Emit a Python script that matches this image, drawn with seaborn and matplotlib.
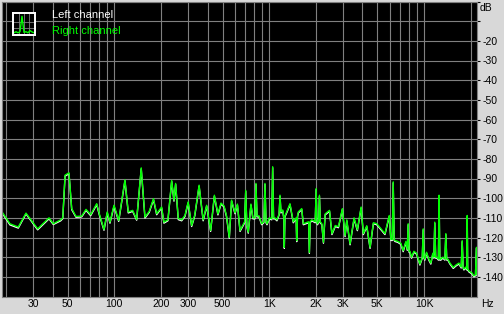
import matplotlib
matplotlib.use("Agg")
import matplotlib.pyplot as plt
import seaborn as sns
from matplotlib.ticker import FixedLocator, LogLocator, FuncFormatter, NullFormatter

# ---------------- data ----------------
freq_hz = [18.75, 21.2, 24.0, 26.9, 32.0, 37.9, 40.4, 45.1, 46.5, 48.1,
           51.0, 53.1, 56.6, 61.6, 65.7, 70.4, 77.0, 80.0, 85.8, 90.1,
           93.8, 99.6, 106.8, 117.2, 123.1, 131.5, 139.5, 149.3, 157.8, 168.2,
           179.1, 187.8, 202.2, 209.2, 222, 234.8, 243, 249, 259, 272.5,
           286, 300, 316, 331, 353, 375, 395, 419, 443, 467,
           489, 512, 531, 553, 572, 602, 624, 649, 695, 706,
           718, 733, 763, 786, 810, 822, 835, 860, 895, 925,
           940, 955, 969, 1005, 1040, 1054, 1068, 1090, 1123, 1160,
           1176, 1192, 1224, 1245, 1253, 1265, 1298, 1364, 1432, 1495,
           1507, 1525, 1544, 1624, 1663, 1800, 1819, 1840, 1886, 1985,
           2012, 2035, 2051, 2090, 2113, 2140, 2190, 2243, 2300, 2455,
           2545, 2673, 2803, 2972, 3094, 3173, 3332, 3536, 3714, 3927,
           4060, 4272, 4486, 4710, 4957, 5202, 5597, 5966, 6118, 6240,
           6329, 6420, 6492, 6785, 7096, 7341, 7642, 7800, 7907, 8010,
           8110, 8318, 8610, 8962, 9414, 9750, 9885, 10000, 10130, 10390,
           10750, 11070, 11400, 11600, 11740, 11900, 12100, 12400, 12520, 12650,
           12850, 13240, 13650, 13840, 14030, 14260, 14710, 15450, 16080, 16810,
           17400, 17650, 17900, 18100, 18650, 18900, 19020, 19150, 19500, 20400,
           21010, 21500, 21800, 22000]

right_db = [-106.7, -113, -114.7, -107.6, -115.6, -110, -113, -111, -110, -88.3,
            -87.1, -105.3, -109.3, -109.1, -105.7, -108.4, -102.8, -107.9, -115.9, -107,
            -112.2, -103.6, -111.3, -90.7, -107, -106.2, -110.8, -84.6, -109.6, -106.7,
            -100.3, -107.9, -104.5, -112.2, -111, -91, -101, -92.5, -110.4, -111,
            -108.8, -101.9, -113.9, -108.5, -93.4, -111, -103.6, -116.4, -98.5, -108,
            -102.5, -104, -109, -119.9, -101, -107.4, -103, -116.4, -112, -96,
            -114, -117.3, -103, -110, -110, -92.5, -109, -109, -113, -112,
            -92.5, -112, -113, -110, -110.5, -84, -110, -110, -111, -108,
            -98.5, -107, -106, -110, -125, -109, -107, -102.8, -112, -110,
            -121.6, -109, -107, -105.3, -113, -112, -127.6, -112, -111, -112,
            -95.1, -112, -113, -112, -98.5, -112, -113, -122.4, -108, -106.2,
            -118, -113.9, -114.5, -105.3, -119, -111, -123.2, -110, -116, -104.5,
            -118, -114, -125, -112.5, -113, -115, -118, -108.8, -121, -121,
            -91.7, -121, -121.5, -122, -123, -126.7, -122, -126, -113, -127,
            -127, -130, -127, -128, -133.5, -130, -115.6, -130, -131, -127.5,
            -131, -133, -128, -130, -112.2, -130, -130, -131, -98.5, -131,
            -131, -130, -131, -118, -131, -131, -133, -135.2, -134, -133,
            -135, -121.6, -135, -136, -135, -136, -108.8, -136, -137, -138,
            -139.5, -139, -125, -139]

left_db = [-107.2, -113.6, -115.2, -108.0, -116.1, -110.5, -113.4, -111.5, -110.4, -88.8,
           -87.6, -105.8, -109.7, -109.5, -106.2, -108.9, -103.3, -108.4, -116.3, -107.5,
           -112.7, -104.1, -111.8, -91.2, -107.5, -106.7, -111.2, -85.1, -110.1, -107.2,
           -100.8, -108.4, -105.0, -112.7, -111.5, -91.5, -101.5, -93.0, -110.9, -111.5,
           -109.3, -102.4, -114.4, -109.0, -93.9, -111.5, -104.1, -116.9, -99.0, -108.5,
           -103.0, -104.5, -109.5, -120.4, -101.5, -107.9, -103.5, -116.9, -112.5, -96.5,
           -114.5, -117.8, -103.5, -110.5, -110.5, -93.0, -109.5, -109.5, -113.5, -112.5,
           -93.0, -112.5, -113.5, -110.5, -111.0, -84.5, -110.5, -110.5, -111.5, -108.5,
           -99.0, -107.5, -106.5, -110.5, -125.5, -109.5, -107.5, -103.3, -112.5, -110.5,
           -122.1, -109.5, -107.5, -105.8, -113.5, -112.5, -128.1, -112.5, -111.5, -112.5,
           -95.6, -112.5, -113.5, -112.5, -99.0, -112.5, -113.5, -122.9, -108.5, -106.7,
           -118.5, -114.4, -115.0, -105.8, -119.5, -111.5, -123.7, -110.5, -116.5, -105.0,
           -118.5, -114.5, -125.5, -113.0, -113.5, -115.5, -118.5, -109.3, -121.5, -121.5,
           -92.2, -121.5, -122.0, -122.5, -123.5, -127.2, -122.5, -126.5, -113.5, -127.5,
           -127.5, -130.5, -127.5, -128.5, -134.0, -130.5, -116.1, -130.5, -131.5, -128.0,
           -131.5, -133.5, -128.5, -130.5, -112.7, -130.5, -130.5, -131.5, -99.0, -131.5,
           -131.5, -130.5, -131.5, -118.5, -131.5, -131.5, -133.5, -135.7, -134.5, -133.5,
           -135.5, -122.1, -135.5, -136.5, -135.5, -136.5, -109.3, -136.5, -137.5, -138.5,
           -140.0, -139.5, -125.5, -139.5]

x_tick_values = [30, 50, 100, 200, 300, 500, 1000, 2000, 3000, 5000, 10000]
x_tick_labels = ["30", "50", "100", "200", "300", "500", "1K", "2K", "3K", "5K", "10K"]
y_grid_values = [-140, -130, -120, -110, -100, -90, -80, -70, -60, -50, -40, -30, -20, -10, 0]
y_labeled = [-140, -130, -120, -110, -100, -90, -80, -70, -60, -50, -40, -30, -20]
series_names = ["Left channel", "Right channel"]

# icon decoration (mini spectrum)
icon_x = [0, 1, 2, 3, 4, 5, 6, 7, 8, 9, 10]
icon_y = [1, 1.5, 1, 1.5, 8.5, 1.2, 1.5, 1, 2, 1.4, 1]

assert len(freq_hz) == len(right_db) == len(left_db)

# ---------------- style ----------------
sns.set_style("dark")
plt.rcParams["font.family"] = ["Liberation Sans", "DejaVu Sans"]

BG = "#D8D8D8"
GRID = "#808080"
GREEN = "#00FF00"

W, H = 504, 314
fig = plt.figure(figsize=(W / 100, H / 100), dpi=100, facecolor=BG)
ax = fig.add_axes([1.7 / W, 1 - 296.5 / H, (477 - 1.7) / W, 295 / H])
ax.set_facecolor("black")
ax.set_xscale("log")

sns.lineplot(x=freq_hz, y=left_db, ax=ax, color="white", lw=1.0, estimator=None)
sns.lineplot(x=freq_hz, y=right_db, ax=ax, color=GREEN, lw=1.0, estimator=None)

ax.set_xlim(18.75, 22000)
ax.set_ylim(-150, 0)

ax.xaxis.set_major_locator(FixedLocator(x_tick_values))
ax.set_xticklabels(x_tick_labels)
ax.xaxis.set_minor_locator(LogLocator(base=10, subs=[2, 3, 4, 5, 6, 7, 8, 9], numticks=20))
ax.xaxis.set_minor_formatter(NullFormatter())

ax.yaxis.set_major_locator(FixedLocator(y_grid_values))
ax.yaxis.set_major_formatter(FuncFormatter(lambda v, p: f"{int(v)}" if int(round(v)) in y_labeled else ""))
ax.yaxis.tick_right()

ax.grid(which="both", color=GRID, lw=0.8)
ax.set_axisbelow(True)
ax.tick_params(axis="x", which="both", length=0, pad=1.5, labelsize=7.5, colors="black")
ax.tick_params(axis="y", which="major", length=2.5, width=0.8, pad=1.2, labelsize=7.5,
               colors="black", right=True, left=False)
for s in ax.spines.values():
    s.set_color(GRID)
    s.set_linewidth(0.8)
ax.set_xlabel("")
ax.set_ylabel("")
if ax.get_legend():
    ax.get_legend().remove()

fig.text(480 / W, 1 - 8 / H, "dB", fontsize=7.5, va="center", ha="left", color="black")
fig.text(481 / W, 1 - 304 / H, "Hz", fontsize=7.5, va="center", ha="left", color="black")

# legend texts
fig.text(52 / W, 1 - 14.5 / H, series_names[0], fontsize=8, color="white", va="center", ha="left")
fig.text(52 / W, 1 - 31 / H, series_names[1], fontsize=8, color=GREEN, va="center", ha="left")

# legend icon
iax = fig.add_axes([13 / W, 1 - 35 / H, 22 / W, 22 / H])
iax.set_facecolor("black")
iax.plot(icon_x, icon_y, color=GREEN, lw=1.0)
iax.set_xlim(-0.5, 10.5)
iax.set_ylim(0, 10)
iax.set_xticks([2.5, 5, 7.5])
iax.set_yticks([3, 6])
iax.tick_params(length=0, labelbottom=False, labelleft=False)
iax.grid(True, color=GRID, lw=0.6)
for s in iax.spines.values():
    s.set_color("white")
    s.set_linewidth(1.4)

fig.savefig("out.png", dpi=100, facecolor=BG)
